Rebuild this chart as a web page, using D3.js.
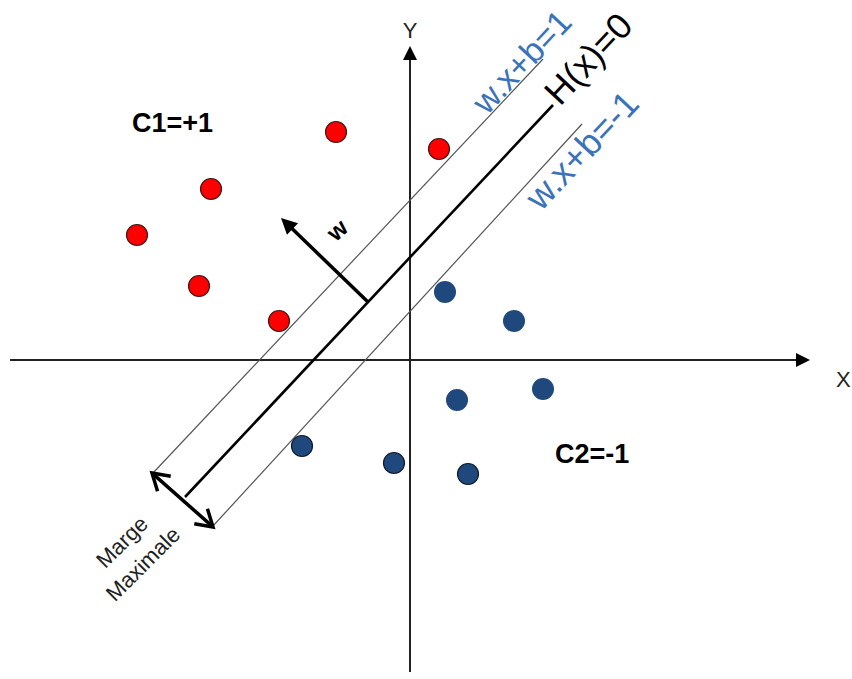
<!DOCTYPE html>
<html><head><meta charset="utf-8">
<script src="https://cdn.jsdelivr.net/npm/d3@7"></script>
<style>html,body{margin:0;padding:0;background:#fff;} svg{display:block;font-family:"Liberation Sans",Arial,Helvetica,sans-serif;}</style>
</head><body><svg id="chart" width="852" height="679"></svg>
<script>
// ---- data (chart units, origin at the axes crossing) ----
const classPosX = [-7.4, 2.9, -19.9, -27.3, -21.1, -13.1];
const classPosY = [22.8, 21.1, 17.1, 12.5, 7.4, 3.9];
const classNegX = [3.5, 10.4, 13.3, 4.7, -10.8, -1.6, 5.8];
const classNegY = [6.8, 3.9, -2.9, -4.0, -8.6, -10.3, -11.4];
const classNegOutlined = [false, false, false, false, true, true, true];
const lineNames = ["w.x+b=1", "H(x)=0", "w.x+b=-1"];
const lineX1 = [-25.7, -22.5, -19.7];
const lineY1 = [-11.3, -13.7, -16.6];
const lineX2 = [13.3, 14.3, 17.2];
const lineY2 = [30.1, 25.5, 23.6];
const weightX = [-4.2, -12.9];
const weightY = [5.8, 14.2];
const marginX = [-25.8, -19.7];
const marginY = [-11.3, -16.7];
const axisXRange = [-40, 40];
const axisYRange = [-31.2, 31.4];
const classLabels = ["C1=+1", "C2=-1"];
const axisLabels = ["X", "Y"];
const weightLabel = "w";
const marginLabel = ["Marge", "Maximale"];

// ---- layout ----
const svg = d3.select("#chart");
const x = d3.scaleLinear().domain([-40, 44]).range([10, 850]);
const y = d3.scaleLinear().domain([-31, 36]).range([670, 0]);
const blueText = "#3b73b9";

function filledHead(g, tipX, tipY, ang, len, half, color) {
  const bx = tipX - len * Math.cos(ang), by = tipY - len * Math.sin(ang);
  const px = -Math.sin(ang), py = Math.cos(ang);
  g.append("path")
    .attr("d", `M${tipX},${tipY}L${bx + half * px},${by + half * py}L${bx - half * px},${by - half * py}Z`)
    .attr("fill", color);
}
function openHead(g, tipX, tipY, ang, len, spread, color, w) {
  const a1 = ang + Math.PI - spread, a2 = ang + Math.PI + spread;
  g.append("path")
    .attr("d", `M${tipX + len * Math.cos(a1)},${tipY + len * Math.sin(a1)}L${tipX},${tipY}L${tipX + len * Math.cos(a2)},${tipY + len * Math.sin(a2)}`)
    .attr("fill", "none").attr("stroke", color).attr("stroke-width", w)
    .attr("stroke-linejoin", "miter");
}

// axes
const ax = svg.append("g");
ax.append("line").attr("x1", x(axisXRange[0])).attr("x2", x(axisXRange[1]) - 12)
  .attr("y1", y(0)).attr("y2", y(0)).attr("stroke", "#222").attr("stroke-width", 2);
filledHead(ax, x(axisXRange[1]), y(0), 0, 14, 7, "#000");
ax.append("line").attr("x1", x(0)).attr("x2", x(0))
  .attr("y1", y(axisYRange[0])).attr("y2", y(axisYRange[1]) + 12).attr("stroke", "#222").attr("stroke-width", 2);
filledHead(ax, x(0), y(axisYRange[1]), -Math.PI / 2, 14, 7, "#000");
svg.append("text").attr("x", 836).attr("y", 387).attr("font-size", 22).attr("fill", "#222").text(axisLabels[0]);
svg.append("text").attr("x", x(0)).attr("y", 38).attr("text-anchor", "middle").attr("font-size", 22).attr("fill", "#222").text(axisLabels[1]);

// separating lines
const lineG = svg.append("g");
lineNames.forEach((n, i) => {
  lineG.append("line")
    .attr("x1", x(lineX1[i])).attr("y1", y(lineY1[i]))
    .attr("x2", x(lineX2[i])).attr("y2", y(lineY2[i]))
    .attr("stroke", i === 1 ? "#000" : "#555")
    .attr("stroke-width", i === 1 ? 2.6 : 1.2);
});
const angDeg = Math.atan2(y(lineY2[1]) - y(lineY1[1]), x(lineX2[1]) - x(lineX1[1])) * 180 / Math.PI;

// line labels
const lblPos = [[487, 116], [560, 107], [541, 212]];
const lblSize = [34, 36, 36];
lineNames.forEach((n, i) => {
  svg.append("text")
    .attr("transform", `translate(${lblPos[i][0]},${lblPos[i][1]}) rotate(${angDeg})`)
    .attr("font-size", lblSize[i])
    .attr("fill", i === 1 ? "#000" : blueText)
    .text(n);
});

// weight vector
const wx1 = x(weightX[0]), wy1 = y(weightY[0]), wx2 = x(weightX[1]), wy2 = y(weightY[1]);
const wAng = Math.atan2(wy2 - wy1, wx2 - wx1);
svg.append("line").attr("x1", wx1).attr("y1", wy1)
  .attr("x2", wx2 - 12 * Math.cos(wAng)).attr("y2", wy2 - 12 * Math.sin(wAng))
  .attr("stroke", "#000").attr("stroke-width", 3.5);
filledHead(svg, wx2, wy2, wAng, 16, 8, "#000");
svg.append("text").attr("transform", `translate(337,230) rotate(-42)`)
  .attr("text-anchor", "middle").attr("dominant-baseline", "central")
  .attr("font-size", 24).attr("font-weight", "bold").text(weightLabel);

// margin double arrow
const mx1 = x(marginX[0]), my1 = y(marginY[0]), mx2 = x(marginX[1]), my2 = y(marginY[1]);
const mAng = Math.atan2(my2 - my1, mx2 - mx1);
svg.append("line").attr("x1", mx1 + 2 * Math.cos(mAng)).attr("y1", my1 + 2 * Math.sin(mAng))
  .attr("x2", mx2 - 2 * Math.cos(mAng)).attr("y2", my2 - 2 * Math.sin(mAng))
  .attr("stroke", "#000").attr("stroke-width", 3.5);
openHead(svg, mx2, my2, mAng, 19, 0.55, "#000", 3.5);
openHead(svg, mx1, my1, mAng + Math.PI, 19, 0.55, "#000", 3.5);
const mlPos = [[122, 542], [143, 564]];
marginLabel.forEach((t, i) => {
  svg.append("text").attr("transform", `translate(${mlPos[i][0]},${mlPos[i][1]}) rotate(-45)`)
    .attr("text-anchor", "middle").attr("dominant-baseline", "central")
    .attr("font-size", 22).attr("fill", "#222").text(t);
});

// points
svg.append("g").selectAll("circle").data(classPosX.map((d, i) => [d, classPosY[i]])).join("circle")
  .attr("cx", d => x(d[0])).attr("cy", d => y(d[1])).attr("r", 10.5)
  .attr("fill", "#ff0000").attr("stroke", "#3a1a1a").attr("stroke-width", 1.2);
svg.append("g").selectAll("circle").data(classNegX.map((d, i) => [d, classNegY[i], classNegOutlined[i]])).join("circle")
  .attr("cx", d => x(d[0])).attr("cy", d => y(d[1])).attr("r", d => d[2] ? 10.5 : 11)
  .attr("fill", "#1f497d").attr("stroke", d => d[2] ? "#111a2a" : "none").attr("stroke-width", 1.2);

// class labels
svg.append("text").attr("x", 132).attr("y", 132).attr("font-size", 27).attr("font-weight", "bold").text(classLabels[0]);
svg.append("text").attr("x", 555).attr("y", 463).attr("font-size", 27).attr("font-weight", "bold").text(classLabels[1]);
</script></body></html>
